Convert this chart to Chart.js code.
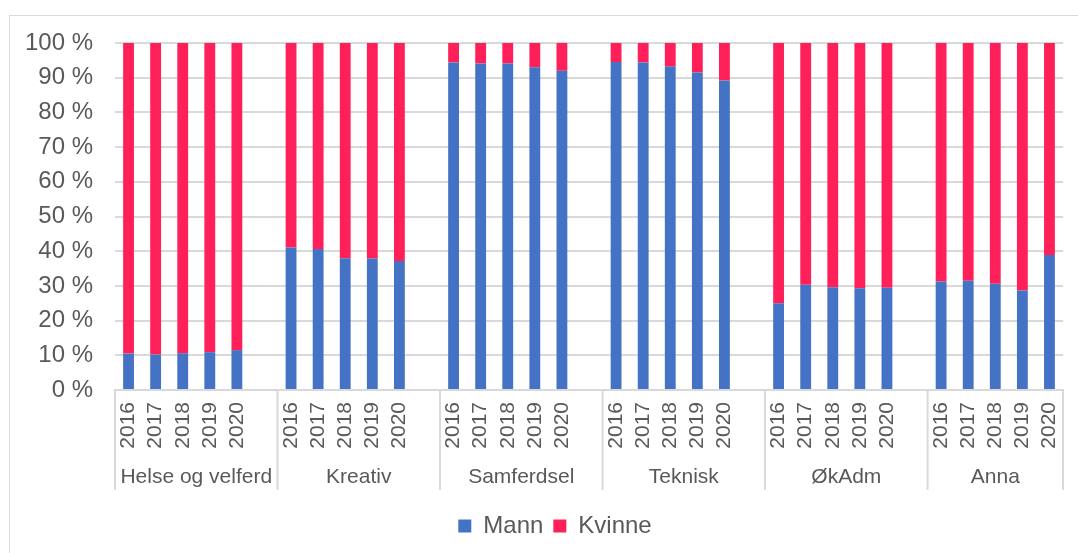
<!DOCTYPE html>
<html>
<head>
<meta charset="utf-8">
<script src="https://cdn.jsdelivr.net/npm/chart.js@4.4.0/dist/chart.umd.min.js"></script>
<style>
  html, body { margin: 0; padding: 0; background: #fff; }
  #wrap { position: relative; width: 1078px; height: 553px; overflow: hidden; }
  #frame { position: absolute; left: 9px; top: 15px; width: 1100px; height: 600px; border: 1px solid #d9d9d9; box-sizing: border-box; }
  canvas { position: absolute; left: 0; top: 0; }
</style>
</head>
<body>
<div id="wrap">
  <div id="frame"></div>
  <canvas id="c" width="1078" height="553"></canvas>
</div>
<script>
const groups = ['Helse og velferd', 'Kreativ', 'Samferdsel', 'Teknisk', 'ØkAdm', 'Anna'];
const years = ['2016', '2017', '2018', '2019', '2020'];
const yTicks = [0, 10, 20, 30, 40, 50, 60, 70, 80, 90, 100];

const mannHelse = [10.5, 10.2, 10.6, 10.9, 11.5];
const mannKreativ = [41.1, 40.6, 38.0, 37.9, 37.2];
const mannSamferdsel = [94.4, 94.1, 94.1, 93.0, 92.0];
const mannTeknisk = [94.5, 94.4, 93.2, 91.5, 89.2];
const mannOkAdm = [25.0, 30.3, 29.6, 29.3, 29.5];
const mannAnna = [31.3, 31.5, 30.6, 28.7, 38.9];

const kvinneHelse = [89.5, 89.8, 89.4, 89.1, 88.5];
const kvinneKreativ = [58.9, 59.4, 62.0, 62.1, 62.8];
const kvinneSamferdsel = [5.6, 5.9, 5.9, 7.0, 8.0];
const kvinneTeknisk = [5.5, 5.6, 6.8, 8.5, 10.8];
const kvinneOkAdm = [75.0, 69.7, 70.4, 70.7, 70.5];
const kvinneAnna = [68.7, 68.5, 69.4, 71.3, 61.1];

const mannByGroup = [mannHelse, mannKreativ, mannSamferdsel, mannTeknisk, mannOkAdm, mannAnna];
const kvinneByGroup = [kvinneHelse, kvinneKreativ, kvinneSamferdsel, kvinneTeknisk, kvinneOkAdm, kvinneAnna];

// Build flat category list with one blank slot between groups
const labels = [], mann = [], kvinne = [], groupStart = [];
groups.forEach((g, gi) => {
  groupStart.push(labels.length);
  years.forEach((y, yi) => {
    labels.push(y);
    mann.push(mannByGroup[gi][yi]);
    kvinne.push(kvinneByGroup[gi][yi]);
  });
  if (gi < groups.length - 1) { labels.push(''); mann.push(null); kvinne.push(null); }
});

const FONT = '"Liberation Sans", Arial, sans-serif';
const TEXT = '#595959';
const GRID = '#d9d9d9';

const groupLabelPlugin = {
  id: 'groupLabels',
  afterLayout(chart) {
    // shift the legend slightly right, as in the reference
    if (chart.legend) { chart.legend.left += 47; }
  },
  afterDraw(chart) {
    const x = chart.scales.x, ctx = chart.ctx;
    const area = chart.chartArea;
    const half = (x.getPixelForValue(1) - x.getPixelForValue(0)) / 2;
    const edges = groupStart.map(i => x.getPixelForValue(i) - half);
    edges.push(area.right);
    ctx.save();
    ctx.strokeStyle = GRID;
    ctx.lineWidth = 2;
    const top = area.bottom, bottom = area.bottom + 100;
    edges.forEach(e => {
      ctx.beginPath(); ctx.moveTo(e, top); ctx.lineTo(e, bottom); ctx.stroke();
    });
    ctx.fillStyle = TEXT;
    ctx.font = '21px ' + FONT;
    ctx.textAlign = 'center';
    ctx.textBaseline = 'alphabetic';
    groups.forEach((g, gi) => {
      const cx = (edges[gi] + edges[gi + 1]) / 2;
      ctx.fillText(g, cx, area.bottom + 93);
    });
    ctx.restore();
  }
};

new Chart(document.getElementById('c'), {
  type: 'bar',
  data: {
    labels: labels,
    datasets: [
      { label: 'Mann', data: mann, backgroundColor: '#4472C4', barPercentage: 0.4, categoryPercentage: 1.0 },
      { label: 'Kvinne', data: kvinne, backgroundColor: '#FF2059', barPercentage: 0.4, categoryPercentage: 1.0 }
    ]
  },
  options: {
    responsive: false,
    devicePixelRatio: 1,
    animation: false,
    layout: { padding: { top: 43, left: 0, right: 15, bottom: 5 } },
    plugins: {
      legend: {
        position: 'bottom',
        labels: {
          boxWidth: 13, boxHeight: 13, padding: 10,
          color: TEXT, font: { family: FONT, size: 24 }
        }
      },
      tooltip: { enabled: false }
    },
    scales: {
      x: {
        stacked: true,
        grid: { display: false, drawTicks: false },
        border: { display: true, color: GRID, width: 2 },
        ticks: {
          autoSkip: false, minRotation: 90, maxRotation: 90, padding: 12,
          color: TEXT, font: { family: FONT, size: 21 }
        },
        afterFit(scale) { scale.height = 114; scale.paddingLeft = 0; scale.paddingRight = 0; }
      },
      y: {
        stacked: true,
        min: 0, max: 100,
        afterBuildTicks(scale) { scale.ticks = yTicks.map(v => ({ value: v })); },
        grid: { color: GRID, lineWidth: 2, drawTicks: false },
        border: { display: false },
        ticks: {
          padding: 22, color: TEXT, font: { family: FONT, size: 24 },
          callback: v => v + ' %'
        },
        afterFit(scale) { scale.width = 115; }
      }
    }
  },
  plugins: [groupLabelPlugin]
});
</script>
</body>
</html>
